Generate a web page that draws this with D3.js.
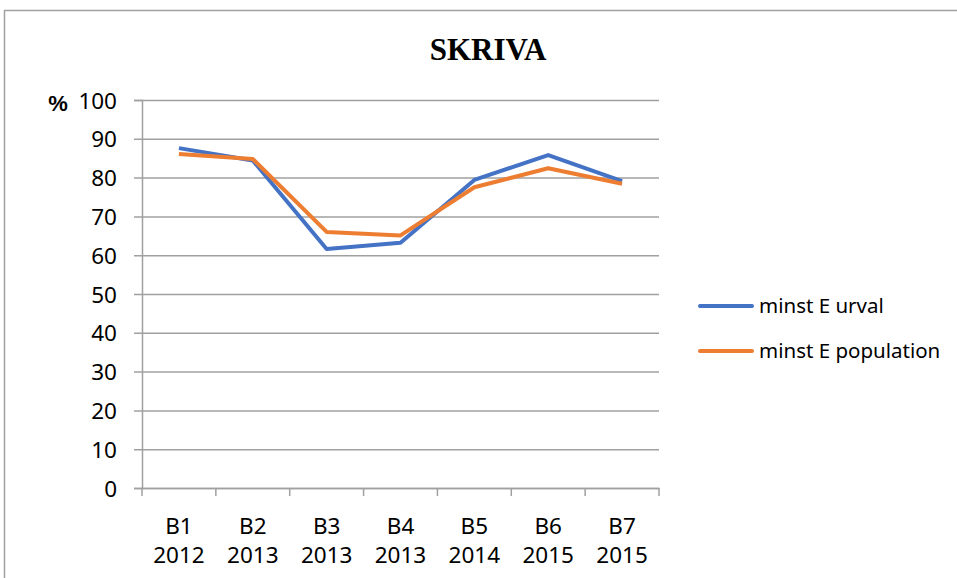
<!DOCTYPE html>
<html>
<head>
<meta charset="utf-8">
<script src="https://cdn.jsdelivr.net/npm/d3@7"></script>
<style>
  body { margin: 0; background: #fff; }
  svg { display: block; }
</style>
</head>
<body>
<div id="viz"></div>
<script>
// data
var categories = ["B1|2012", "B2|2013", "B3|2013", "B4|2013", "B5|2014", "B6|2015", "B7|2015"];
var urval = [87.6, 84.4, 61.6, 63.2, 79.4, 85.8, 79.1];
var population = [86.1, 84.8, 66.0, 65.1, 77.5, 82.4, 78.4];
var seriesNames = ["minst E urval", "minst E population"];
var colors = ["#4472C4", "#ED7D31"];
var yTicks = [0, 10, 20, 30, 40, 50, 60, 70, 80, 90, 100];

var W = 957, H = 578,
    margin = {top: 100, left: 142, right: 298, bottom: 90},
    width = W - margin.left - margin.right,
    height = H - margin.top - margin.bottom;

var svg = d3.select("#viz").append("svg")
    .attr("width", W)
    .attr("height", H);

// chart border
svg.append("path")
    .attr("d", "M4.5," + H + "V10.5H" + W)
    .attr("fill", "none")
    .attr("stroke", "#a0a0a0")
    .attr("stroke-width", 1.5);

svg.append("text")
    .attr("x", 488)
    .attr("y", 60)
    .attr("text-anchor", "middle")
    .style("font-family", "'Liberation Serif', 'Times New Roman', serif")
    .style("font-weight", "bold")
    .style("font-size", "31px")
    .text("SKRIVA");

svg.append("text")
    .attr("x", 58)
    .attr("y", 111)
    .attr("text-anchor", "middle")
    .style("font-family", "'Liberation Sans', Arial, sans-serif")
    .style("font-weight", "bold")
    .style("font-size", "22px")
    .text("%");

var g = svg.append("g")
    .attr("transform", "translate(" + margin.left + "," + margin.top + ")");

var x = d3.scaleBand().domain(categories).range([0, width]);
var y = d3.scaleLinear().domain([0, 100]).range([height, 0]);

// gridlines + y axis
var yAxis = g.append("g")
    .call(d3.axisLeft(y).tickValues(yTicks).tickSize(8).tickPadding(15));
yAxis.select(".domain").attr("stroke", "#a0a0a0").attr("stroke-width", 1.5);
yAxis.selectAll(".tick line").attr("stroke", "#a0a0a0").attr("stroke-width", 1.5)
    .attr("x1", -8)
    .attr("x2", width);
yAxis.selectAll(".tick text")
    .style("font-family", "'Noto Sans', 'Open Sans', sans-serif")
    .style("font-size", "22.5px")
    .attr("fill", "#000")
    .attr("x", -25)
    .attr("dy", "0.36em");

// x axis
var xAxis = g.append("g")
    .attr("transform", "translate(0," + height + ")")
    .call(d3.axisBottom(x).tickSize(0).tickFormat(""));
xAxis.select(".domain").attr("stroke", "#a0a0a0").attr("stroke-width", 1.5);

var edges = categories.map(function(c){ return x(c); }).concat([width]);
xAxis.selectAll(".edge").data(edges).enter().append("line")
    .attr("x1", function(d){ return d; })
    .attr("x2", function(d){ return d; })
    .attr("y1", 0).attr("y2", 8)
    .attr("stroke", "#a0a0a0").attr("stroke-width", 1.5);

var labels = xAxis.selectAll(".lbl").data(categories).enter().append("text")
    .attr("x", function(d){ return x(d) + x.bandwidth() / 2; })
    .attr("text-anchor", "middle")
    .style("font-family", "'Noto Sans', 'Open Sans', sans-serif")
    .style("font-size", "22.5px")
    .attr("fill", "#000");
labels.append("tspan").attr("x", function(d){ return x(d) + x.bandwidth() / 2; })
    .attr("y", 46).text(function(d){ return d.split("|")[0]; });
labels.append("tspan").attr("x", function(d){ return x(d) + x.bandwidth() / 2; })
    .attr("y", 75).text(function(d){ return d.split("|")[1]; });

// lines
var line = d3.line()
    .x(function(d, i){ return x(categories[i]) + x.bandwidth() / 2; })
    .y(function(d){ return y(d); });

[urval, population].forEach(function(s, i){
    g.append("path")
        .datum(s)
        .attr("fill", "none")
        .attr("stroke", colors[i])
        .attr("stroke-width", 4)
        .attr("stroke-linejoin", "round")
        .attr("d", line);
});

// legend
var legend = svg.append("g").attr("transform", "translate(700,306)");
seriesNames.forEach(function(n, i){
    var row = legend.append("g").attr("transform", "translate(0," + (i * 45) + ")");
    row.append("line")
        .attr("x1", 0).attr("x2", 52)
        .attr("stroke", colors[i])
        .attr("stroke-width", 4)
        .attr("stroke-linecap", "round");
    row.append("text")
        .attr("x", 59)
        .attr("y", 7)
        .style("font-family", "'Noto Sans', 'Open Sans', sans-serif")
        .style("font-size", "20.5px")
        .attr("fill", "#000")
        .text(n);
});
</script>
</body>
</html>
